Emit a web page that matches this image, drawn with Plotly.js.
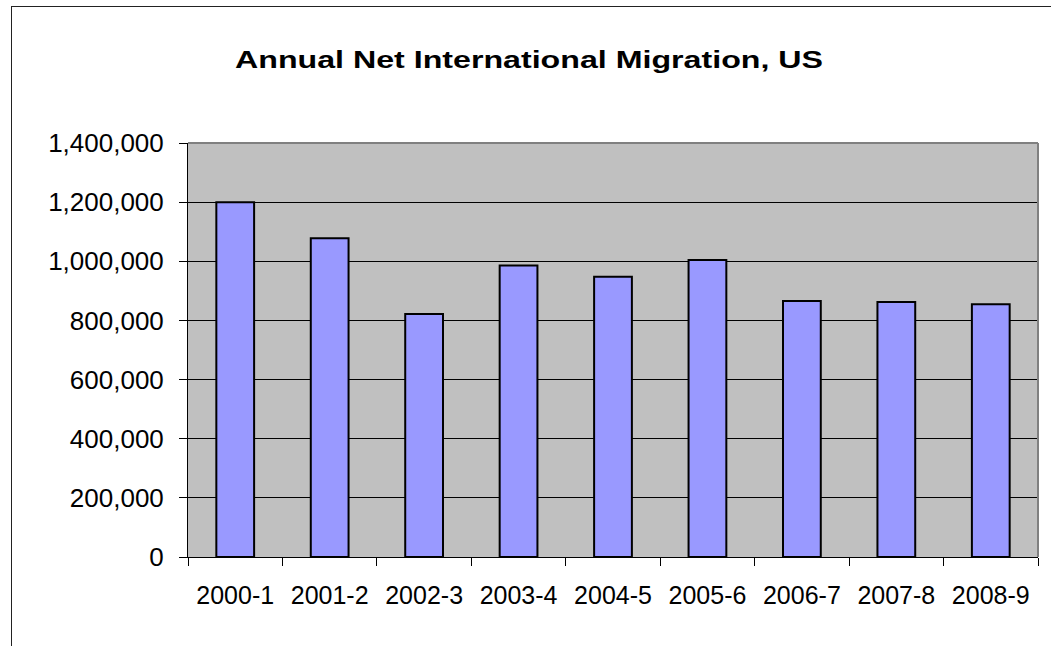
<!DOCTYPE html>
<html>
<head>
<meta charset="utf-8">
<script src="https://cdn.plot.ly/plotly-3.0.1.min.js"></script>
<style>
  html, body { margin: 0; padding: 0; background: #ffffff; overflow: hidden; }
  #chart { width: 1051px; height: 646px; position: relative; }
  #frame { position: absolute; left: 11px; top: 6px; width: 1100px; height: 700px;
           border-left: 1px solid #222; border-top: 1px solid #222; pointer-events: none; }
</style>
</head>
<body>
<div id="chart"></div>
<div id="frame"></div>
<script>
const categories = ["2000-1", "2001-2", "2002-3", "2003-4", "2004-5", "2005-6", "2006-7", "2007-8", "2008-9"];
const migration = [1200000, 1078000, 822000, 986000, 948000, 1004000, 866000, 862000, 855000];
const yTickValues = [0, 200000, 400000, 600000, 800000, 1000000, 1200000, 1400000];
const titleText = "Annual Net International Migration, US";

const trace = {
  type: "bar",
  x: categories,
  y: migration,
  marker: { color: "#9999FF", line: { color: "#000000", width: 2 } },
  hoverinfo: "x+y"
};

const layout = {
  width: 1051,
  height: 646,
  margin: { l: 188, r: 13, t: 143, b: 89, pad: 0 },
  paper_bgcolor: "#ffffff",
  plot_bgcolor: "#C0C0C0",
  font: { family: "Liberation Sans, Arial, sans-serif", color: "#000000", size: 26 },
  title: {
    text: "<b>" + titleText + "</b>",
    font: { family: "Liberation Sans, Arial, sans-serif", size: 23, color: "#000000" },
    x: 529 / 1051, xref: "container", xanchor: "center",
    y: 1 - 60 / 646, yref: "container", yanchor: "middle"
  },
  bargap: 0.6,
  showlegend: false,
  xaxis: {
    type: "category",
    showline: true, linecolor: "#000000", linewidth: 1,
    ticks: "outside", tickson: "boundaries", ticklen: 8, tickcolor: "#000000", tickwidth: 1,
    showgrid: false, zeroline: false,
    tickfont: { size: 25 },
    ticklabelstandoff: 16
  },
  yaxis: {
    range: [0, 1400000],
    tickvals: yTickValues,
    tickformat: ",",
    showline: true, linecolor: "#000000", linewidth: 1,
    ticks: "outside", ticklen: 8, tickcolor: "#000000", tickwidth: 1,
    showgrid: true, gridcolor: "#000000", gridwidth: 1,
    zeroline: false,
    tickfont: { size: 26 },
    ticklabelstandoff: 10
  },
  shapes: [
    { type: "line", xref: "paper", yref: "paper", x0: 0, x1: 1, y0: 1, y1: 1,
      line: { color: "#808080", width: 2 }, layer: "above" },
    { type: "line", xref: "paper", yref: "paper", x0: 1, x1: 1, y0: 0, y1: 1,
      line: { color: "#808080", width: 2 }, layer: "above" }
  ]
};

Plotly.newPlot("chart", [trace], layout, { displayModeBar: false, staticPlot: true }).then(function () {
  // The reference title is horizontally stretched; widen the text to match.
  const t = document.querySelector(".gtitle");
  if (t) {
    t.setAttribute("textLength", "588");
    t.setAttribute("lengthAdjust", "spacingAndGlyphs");
  }
});
</script>
</body>
</html>
